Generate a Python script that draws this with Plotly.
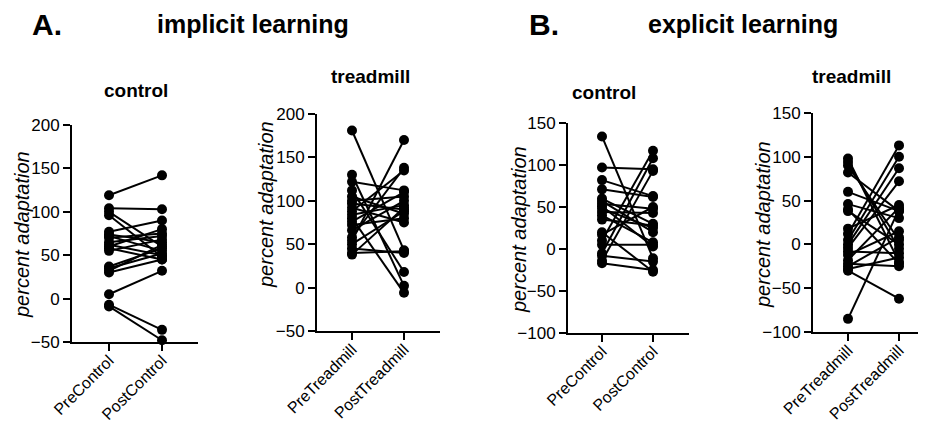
import plotly.graph_objects as go

# page size; the browser's default 8px body margin shifts the figure
PAGE_W, PAGE_H = 926, 427
OFF = 8
W, H = PAGE_W, PAGE_H

# ---------------- data ----------------
imp_ctrl_pre  = [119, 104, 100, 96, 77, 74, 72, 70, 65, 62, 60, 58, 55, 37, 35, 32, 30, 5, -7, -9]
imp_ctrl_post = [142, 103, 60, 48, 90, 65, 55, 75, 72, 50, 80, 45, 68, 58, 52, 62, 45, 32, -36, -48]

imp_tread_pre  = [181, 130, 122, 112, 105, 100, 97, 92, 88, 84, 80, 76, 72, 66, 58, 54, 50, 45, 40, 38]
imp_tread_post = [43, 2, 112, 18, 85, 105, 90, 75, 135, 95, -6, 110, 80, 100, 138, 170, 88, 40, 42, 92]

exp_ctrl_pre  = [134, 97, 82, 71, 60, 57, 54, 51, 48, 44, 40, 35, 20, 17, 10, 5, -5, -8, -14, -17]
exp_ctrl_post = [-11, 95, 63, 62, 30, 20, 48, 3, 25, 43, 8, 28, -27, 50, 117, 5, 108, -15, 93, -25]

exp_tread_pre  = [98, 94, 90, 82, 60, 46, 40, 38, 18, 12, 5, 0, -4, -8, -12, -18, -22, -25, -28, -30, -85]
exp_tread_post = [-20, -5, 5, 38, 38, 30, -22, 0, 45, 113, 100, 87, 72, -10, 15, 42, -25, 8, -15, -62, 40]

ctrl_labels = ["PreControl", "PostControl"]
tread_labels = ["PreTreadmill", "PostTreadmill"]

panels = [
    dict(pre=imp_ctrl_pre, post=imp_ctrl_post, labels=ctrl_labels, yr=[-50, 200],
         px=(72, 198), pre_px=109, post_px=162, ytop=125, ybot=342,
         title="control", tx=136, ty=90, ytx=22, yty=235),
    dict(pre=imp_tread_pre, post=imp_tread_post, labels=tread_labels, yr=[-50, 200],
         px=(317, 440), pre_px=352, post_px=404, ytop=114, ybot=331,
         title="treadmill", tx=370, ty=77, ytx=266, yty=205),
    dict(pre=exp_ctrl_pre, post=exp_ctrl_post, labels=ctrl_labels, yr=[-100, 150],
         px=(568, 689), pre_px=602, post_px=653, ytop=123, ybot=333,
         title="control", tx=604, ty=92, ytx=519, yty=230),
    dict(pre=exp_tread_pre, post=exp_tread_post, labels=tread_labels, yr=[-100, 150],
         px=(813, 926), pre_px=848, post_px=899, ytop=113, ybot=332,
         title="treadmill", tx=851, ty=77, ytx=763, yty=225),
]


def fx(x):
    return (x - OFF) / W


def fy(y):
    return 1 - (y - OFF) / H


FONT = "Liberation Sans, Arial, sans-serif"
fig = go.Figure()
annotations = []

for i, p in enumerate(panels):
    idx = "" if i == 0 else str(i + 1)
    xs, ys = [], []
    for a, b in zip(p["pre"], p["post"]):
        xs += [0, 1, None]
        ys += [a, b, None]
    fig.add_trace(go.Scatter(
        x=xs, y=ys, mode="lines+markers", xaxis="x" + idx, yaxis="y" + idx,
        line=dict(color="black", width=2),
        marker=dict(color="black", size=10),
        cliponaxis=False, showlegend=False, hoverinfo="skip"))
    scale = p["post_px"] - p["pre_px"]
    xr = [(p["px"][0] - p["pre_px"]) / scale, 1 + (p["px"][1] - p["post_px"]) / scale]
    fig.layout["xaxis" + idx] = dict(
        domain=[fx(p["px"][0]), min(1.0, fx(p["px"][1]))], range=xr, anchor="y" + idx,
        tickvals=[0, 1], ticktext=p["labels"], tickangle=-45, automargin=False,
        ticklabelstandoff=-6,
        showline=True, linecolor="black", linewidth=2, ticks="outside",
        ticklen=7, tickwidth=2, tickcolor="black", showgrid=False, zeroline=False,
        tickfont=dict(family=FONT, size=16, color="black"), fixedrange=True)
    fig.layout["yaxis" + idx] = dict(
        domain=[fy(p["ybot"]), fy(p["ytop"])], range=p["yr"], anchor="x" + idx,
        dtick=50, showline=True, linecolor="black", linewidth=2, ticks="outside",
        automargin=False,
        ticklen=7, tickwidth=2, tickcolor="black", showgrid=False, zeroline=False,
        tickfont=dict(family=FONT, size=17, color="black"), fixedrange=True)
    annotations.append(dict(text="<b>" + p["title"] + "</b>", x=fx(p["tx"]), y=fy(p["ty"]),
                            xref="paper", yref="paper", showarrow=False,
                            font=dict(family=FONT, size=19, color="black"),
                            xanchor="center", yanchor="middle"))
    annotations.append(dict(text="<i>percent adaptation</i>", x=fx(p["ytx"]), y=fy(p["yty"]),
                            xref="paper", yref="paper", showarrow=False, textangle=-90,
                            font=dict(family=FONT, size=20, color="black"),
                            xanchor="center", yanchor="middle"))

for txt, x, size in [("A.", 47, 30), ("implicit learning", 253, 25),
                     ("B.", 544, 30), ("explicit learning", 743, 25)]:
    annotations.append(dict(text="<b>" + txt + "</b>", x=fx(x), y=fy(24),
                            xref="paper", yref="paper", showarrow=False,
                            font=dict(family=FONT, size=size, color="black"),
                            xanchor="center", yanchor="middle"))

fig.update_layout(width=W, height=H, margin=dict(l=0, r=0, t=0, b=0, autoexpand=False),
                  paper_bgcolor="white", plot_bgcolor="white",
                  annotations=annotations, font=dict(family=FONT, color="black"))
fig.write_html("out.html")
